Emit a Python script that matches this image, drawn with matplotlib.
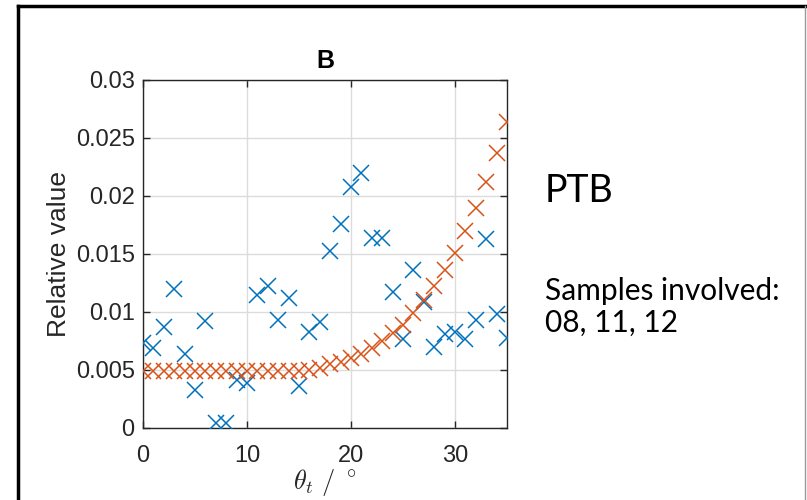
import matplotlib
matplotlib.use("Agg")
import matplotlib.pyplot as plt
from matplotlib.lines import Line2D
import numpy as np

theta = list(range(36))
blue_vals = [0.0073, 0.0069, 0.0087, 0.0120, 0.0064, 0.0033, 0.0092, 0.0004, 0.0004, 0.0041,
             0.0039, 0.0115, 0.0122, 0.0093, 0.0112, 0.0036, 0.0083, 0.0091, 0.0153, 0.0176,
             0.0208, 0.0220, 0.0164, 0.0164, 0.0117, 0.0077, 0.0136, 0.0109, 0.0070, 0.0081,
             0.0083, 0.0077, 0.0093, 0.0163, 0.0098, 0.0078]
orange_vals = [0.0049] * 16 + [0.0050, 0.0052, 0.0055, 0.0057, 0.0060, 0.0064, 0.0069, 0.0075,
                               0.0082, 0.0089, 0.0099, 0.0110, 0.0122, 0.0136, 0.0151, 0.0170,
                               0.0190, 0.0212, 0.0237, 0.0264]
xticks = [0, 10, 20, 30]
yticks = [0, 0.005, 0.01, 0.015, 0.02, 0.025, 0.03]
yticklabels = ["0", "0.005", "0.01", "0.015", "0.02", "0.025", "0.03"]

plt.rcParams['font.family'] = ['Liberation Sans', 'DejaVu Sans']
plt.rcParams['mathtext.fontset'] = 'cm'

W, H = 807, 500
fig = plt.figure(figsize=(W / 100, H / 100), dpi=100)
ax = fig.add_axes([143 / W, 1 - 428 / H, (507 - 143) / W, (428 - 80) / H])

ax.plot(theta, blue_vals, 'x', color='#0072BD', ms=11, mew=1.1, zorder=3)
ax.plot(theta, orange_vals, 'x', color='#D95319', ms=11, mew=1.1, zorder=3)

ax.set_xlim(0, 35)
ax.set_ylim(0, 0.03)
ax.set_xticks(xticks)
ax.set_yticks(yticks)
ax.set_yticklabels(yticklabels)
ax.grid(True, color='#DCDCDC', lw=1.0)
ax.set_axisbelow(True)
ax.tick_params(direction='in', top=True, right=True, labelsize=17, colors='#262626',
               length=5, width=1)
ax.tick_params(axis='x', pad=12)
ax.tick_params(axis='y', pad=6)
for s in ax.spines.values():
    s.set_color('#262626')
    s.set_linewidth(1.0)
ax.set_title('B', fontsize=18, fontweight='bold', pad=9)
ax.set_ylabel('Relative value', fontsize=19, color='#262626', labelpad=3)
ax.set_xlabel(r'$\theta_t\ /\ ^\circ$', fontsize=19, color='#262626', labelpad=0.5)

# border of the slide
fig.add_artist(Line2D([18 / W, 805 / W], [1 - 6 / H, 1 - 6 / H], color='black', lw=2.5,
                      transform=fig.transFigure))
fig.add_artist(Line2D([18 / W, 18 / W], [0, 1 - 6 / H], color='black', lw=2.5,
                      transform=fig.transFigure))
fig.add_artist(Line2D([805 / W, 805 / W], [0, 1 - 6 / H], color='#999999', lw=1,
                      transform=fig.transFigure))

fig.text(545 / W, 1 - 202 / H, 'PTB', fontsize=27, family=['Lato', 'DejaVu Sans'],
         va='baseline', ha='left', color='black')
fig.text(545 / W, 1 - 300 / H, 'Samples involved:', fontsize=21.5, family=['Lato', 'DejaVu Sans'],
         va='baseline', ha='left', color='black')
fig.text(545 / W, 1 - 332 / H, '08, 11, 12', fontsize=21.5, family=['Lato', 'DejaVu Sans'],
         va='baseline', ha='left', color='black')

fig.savefig('out.png', dpi=100)
